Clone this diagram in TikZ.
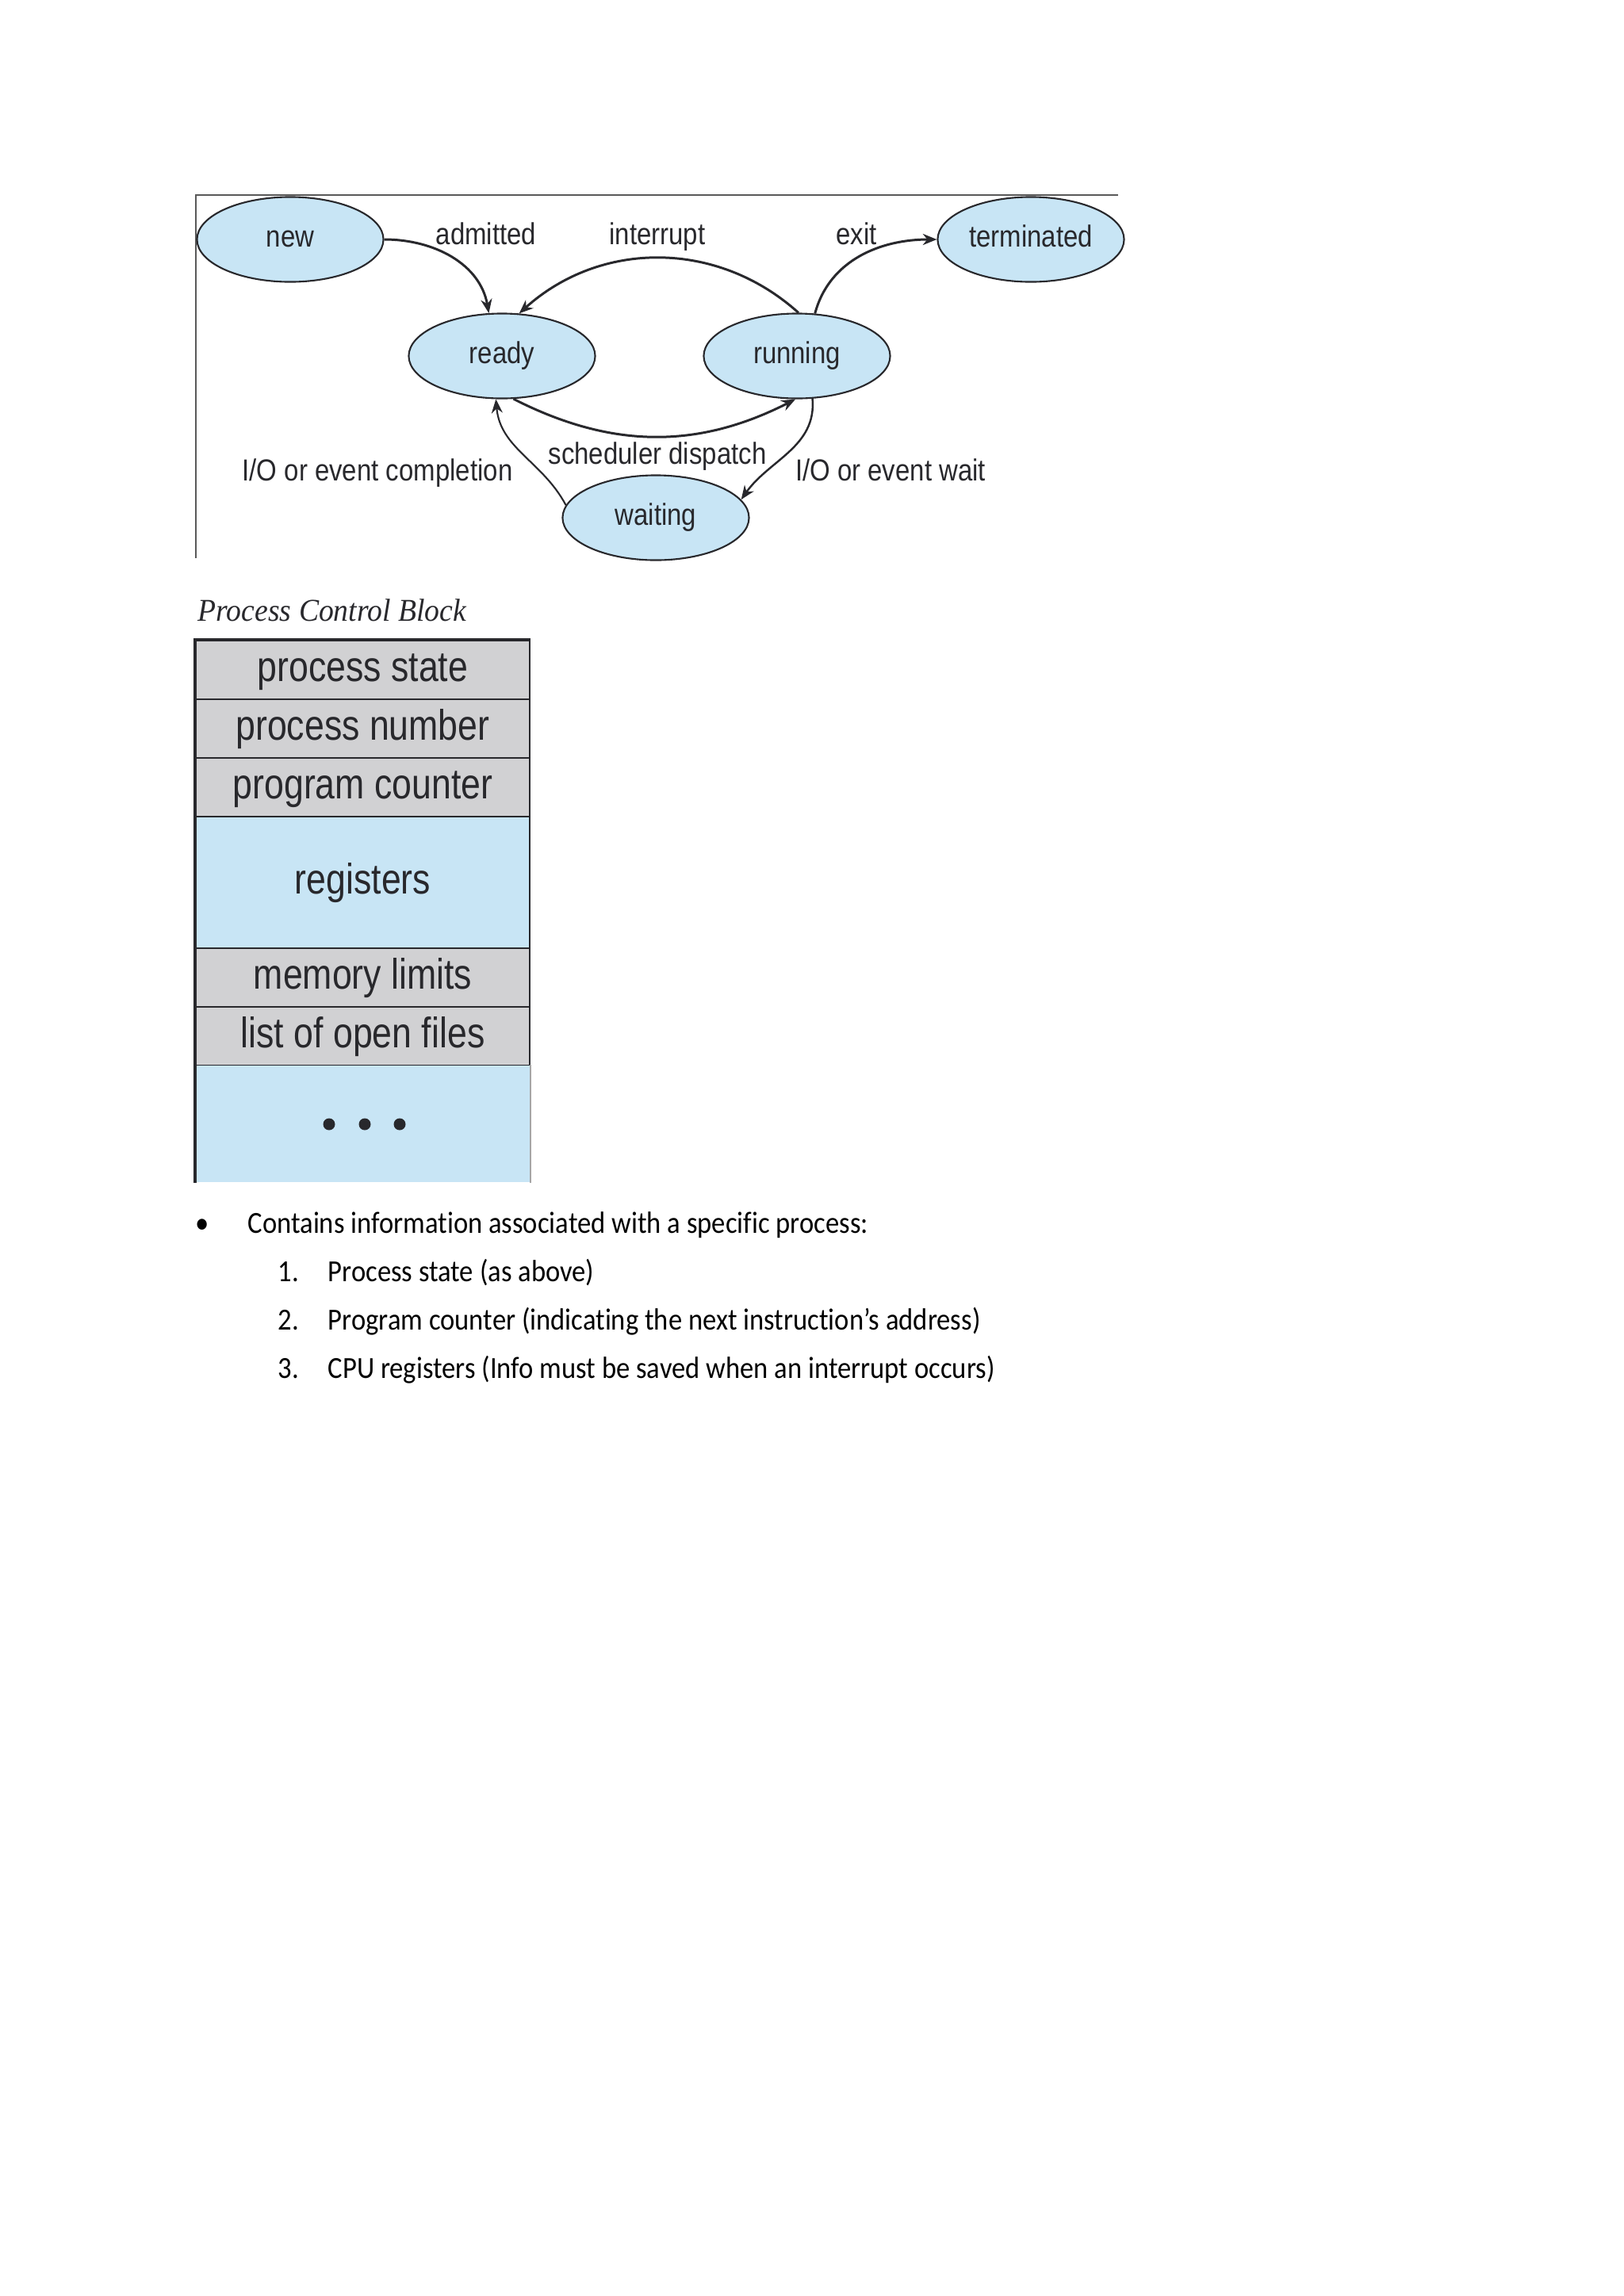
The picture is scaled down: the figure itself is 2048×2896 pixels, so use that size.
\documentclass[tikz,border=0pt]{standalone}
\usepackage{fontspec}
\setmainfont{Carlito}[Ligatures=NoCommon,FakeStretch=0.895]
\newfontfamily\figfont[FakeStretch=0.86]{Liberation Sans}
\newfontfamily\pcbfont[FakeStretch=0.83]{Liberation Sans}
\newfontfamily\captfont[FakeStretch=0.94]{Liberation Serif}
\usetikzlibrary{arrows.meta,shapes.geometric}
\definecolor{stateblue}{RGB}{200,229,245}
\definecolor{cellgray}{RGB}{209,209,211}
\definecolor{inkgray}{RGB}{40,40,44}

\begin{document}
\begin{tikzpicture}[x=0.01cm,y=-0.01cm,
	state/.style={ellipse,draw=inkgray,line width=0.6pt,fill=stateblue,minimum width=2.35cm,minimum height=1.07cm,inner sep=0pt,text height=7.9pt,text depth=2.24pt,text=inkgray,font=\figfont\fontsize{10.9}{13}\selectfont},
	lbl/.style={anchor=base,inner sep=0pt,text=inkgray,font=\figfont\fontsize{10.9}{13}\selectfont},
	trans/.style={draw=inkgray,line width=0.85pt,-{Stealth[length=5pt,width=4pt]}},
	cell/.style={rectangle,draw=inkgray,line width=0.5pt,fill=cellgray,minimum width=4.21cm,minimum height=0.74cm,inner sep=0pt,text height=11pt,text depth=3.04pt,text=inkgray,font=\pcbfont\fontsize{15.3}{17}\selectfont},
	item/.style={anchor=base west,inner sep=0pt,font=\fontsize{11}{13}\selectfont}]
	\useasboundingbox (0,0) rectangle (2048,2896);

	% state diagram
	\draw [gray!70!black,line width=0.5pt] (1410,246) -- (247,246) -- (247,704);
	\node (new) at (366,302) [state] {new};
	\node (terminated) at (1300,302) [state] {terminated};
	\node (ready) at (633,449) [state] {ready};
	\node (running) at (1005,449) [state] {running};
	\node (waiting) at (827,653) [state] {waiting};
	\node (admitted) at (613,308) [lbl] {admitted};
	\node (interrupt) at (829,308) [lbl] {interrupt};
	\node (exit) at (1080,308) [lbl] {exit};
	\node (dispatch) at (829,585) [lbl] {scheduler dispatch};
	\node (completion) at (476,606) [lbl] {I/O or event completion};
	\node (wait) at (1123,606) [lbl] {I/O or event wait};
	\draw [trans] (new.east) to[out=0,in=100] (ready.107);
	\draw [trans] (running.88) to[out=138,in=42] (ready.68);
	\draw [trans] (running.67) to[out=75,in=180] (terminated.west);
	\draw [trans] (ready.285) to[out=-27,in=-153] (running.268);
	\draw [trans,line width=0.7pt] (running.290) to[out=-85,in=55] (waiting.12);
	\draw [trans,line width=0.6pt] (waiting.172) to[out=118,in=-85] (ready.262);

	% process control block
	\node (pcbtitle) at (249,783) [anchor=base west,inner sep=0pt,text=inkgray,font=\captfont\itshape\fontsize{11.4}{13}\selectfont] {Process Control Block};
	\node (pstate) at (457.5,845) [cell] {process state};
	\node (pnumber) at (457.5,919) [cell] {process number};
	\node (pcounter) at (457.5,993) [cell] {program counter};
	\node (regs) at (457.5,1113) [cell,fill=stateblue,minimum height=1.66cm] {registers};
	\node (memlim) at (457.5,1233) [cell] {memory limits};
	\node (openfiles) at (457.5,1307) [cell] {list of open files};
	\node (more) at (457.5,1417.5) [cell,draw=none,fill=stateblue,minimum height=1.47cm] {};
	\fill [inkgray] (415,1418) circle (7.5) (460,1418) circle (7.5) (504,1418) circle (7.5);
	\draw [gray!70,line width=0.5pt] (more.north east) -- (more.south east);
	\draw [inkgray,line width=1.3pt] (more.south west) -- (pstate.north west) -- (pstate.north east);

	% notes
	\node (bullet) at (246,1555) [item] {•};
	\node (intro) at (312,1555) [item] {Contains information associated with a specific process:};
	\node (num1) at (350,1616) [item] {1.};
	\node (item1) at (413,1616) [item] {Process state (as above)};
	\node (num2) at (350,1677) [item] {2.};
	\node (item2) at (413,1677) [item] {Program counter (indicating the next instruction’s address)};
	\node (num3) at (350,1738) [item] {3.};
	\node (item3) at (413,1738) [item] {CPU registers (Info must be saved when an interrupt occurs)};
\end{tikzpicture}
\end{document}
